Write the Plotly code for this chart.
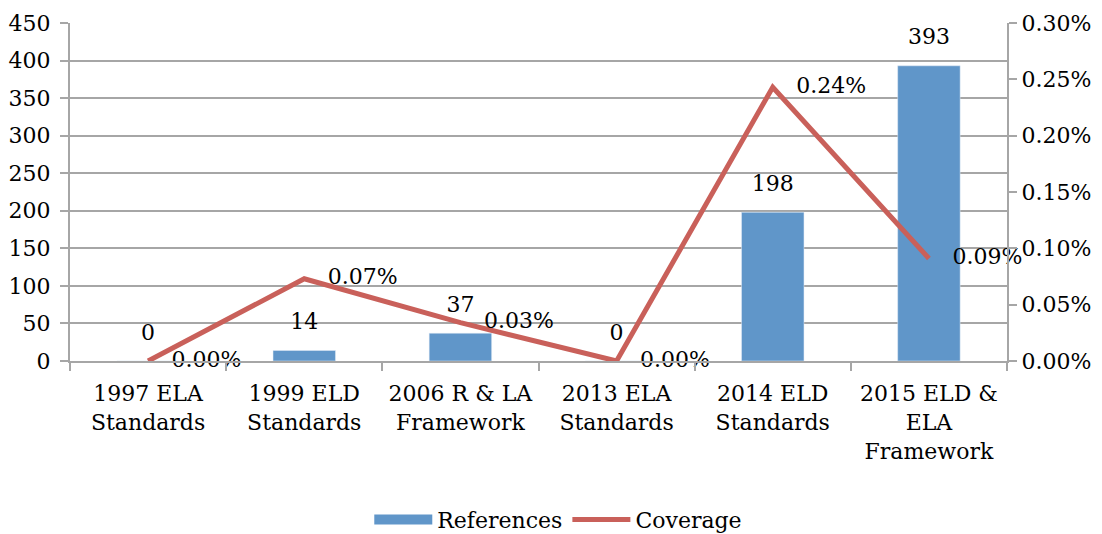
import plotly.graph_objects as go

categories = ["1997 ELA<br>Standards", "1999 ELD<br>Standards", "2006 R & LA<br>Framework",
              "2013 ELA<br>Standards", "2014 ELD<br>Standards", "2015 ELD &<br>ELA<br>Framework"]
references = [0, 14, 37, 0, 198, 393]
coverage = [0.0, 0.00073, 0.00034, 0.0, 0.00243, 0.00091]
coverage_labels = ["0.00%", "0.07%", "0.03%", "0.00%", "0.24%", "0.09%"]
left_ticks = [0, 50, 100, 150, 200, 250, 300, 350, 400, 450]
right_ticks = [0, 0.0005, 0.001, 0.0015, 0.002, 0.0025, 0.003]

FONT = "DejaVu Serif"
BLUE = "#6096C9"
RED = "#C9605A"
GRID = "#A6A6A6"
FS = 22

fig = go.Figure()
# bars
fig.add_trace(go.Bar(
    x=categories, y=references, name="References", marker_color=BLUE,
    width=0.4, showlegend=False, hoverinfo="x+y",
))
# bar value labels (invisible markers offset the text above the bar top)
fig.add_trace(go.Scatter(
    x=categories, y=references, mode="markers+text", showlegend=False,
    marker=dict(size=24, opacity=0), text=[str(v) for v in references],
    textposition="top center", textfont=dict(size=FS, color="black", family=FONT),
    hoverinfo="skip", cliponaxis=False,
))
# coverage line
fig.add_trace(go.Scatter(
    x=categories, y=coverage, name="Coverage", mode="lines",
    line=dict(color=RED, width=5), yaxis="y2", showlegend=False,
))
fig.add_trace(go.Scatter(
    x=categories, y=coverage, mode="markers+text", yaxis="y2", showlegend=False,
    marker=dict(size=36, opacity=0), text=coverage_labels, textposition="middle right",
    textfont=dict(size=FS, color="black", family=FONT), hoverinfo="skip", cliponaxis=False,
))
# legend entries
fig.add_trace(go.Scatter(x=[None], y=[None], mode="lines", name="References",
                         line=dict(color=BLUE, width=14)))
fig.add_trace(go.Scatter(x=[None], y=[None], mode="lines", name="Coverage",
                         line=dict(color=RED, width=5)))

axis_common = dict(showline=True, linecolor=GRID, linewidth=2, ticks="outside",
                   ticklen=8, tickcolor=GRID, tickwidth=2,
                   tickfont=dict(size=FS, family=FONT, color="black"))

fig.update_layout(
    width=1094, height=526,
    margin=dict(l=62, r=95, t=15, b=173, autoexpand=False),
    paper_bgcolor="white", plot_bgcolor="white",
    font=dict(family=FONT, size=FS, color="black"),
    showlegend=True,
    legend=dict(orientation="h", x=0.503, xanchor="center", xref="container",
                y=0.027, yanchor="middle", yref="container",
                font=dict(size=FS, family=FONT, color="black"), itemwidth=58),
    xaxis=dict(tickson="boundaries", showgrid=False, ticklabelstandoff=12, **axis_common),
    yaxis=dict(range=[0, 450], tickvals=left_ticks, showgrid=True, gridcolor=GRID,
               gridwidth=2, zeroline=False, ticklabelstandoff=5, **axis_common),
    yaxis2=dict(range=[0, 0.003], tickvals=right_ticks, tickformat=".2%", overlaying="y",
                side="right", showgrid=False, zeroline=False, ticklabelstandoff=0,
                **axis_common),
)

fig.write_html("out.html")
